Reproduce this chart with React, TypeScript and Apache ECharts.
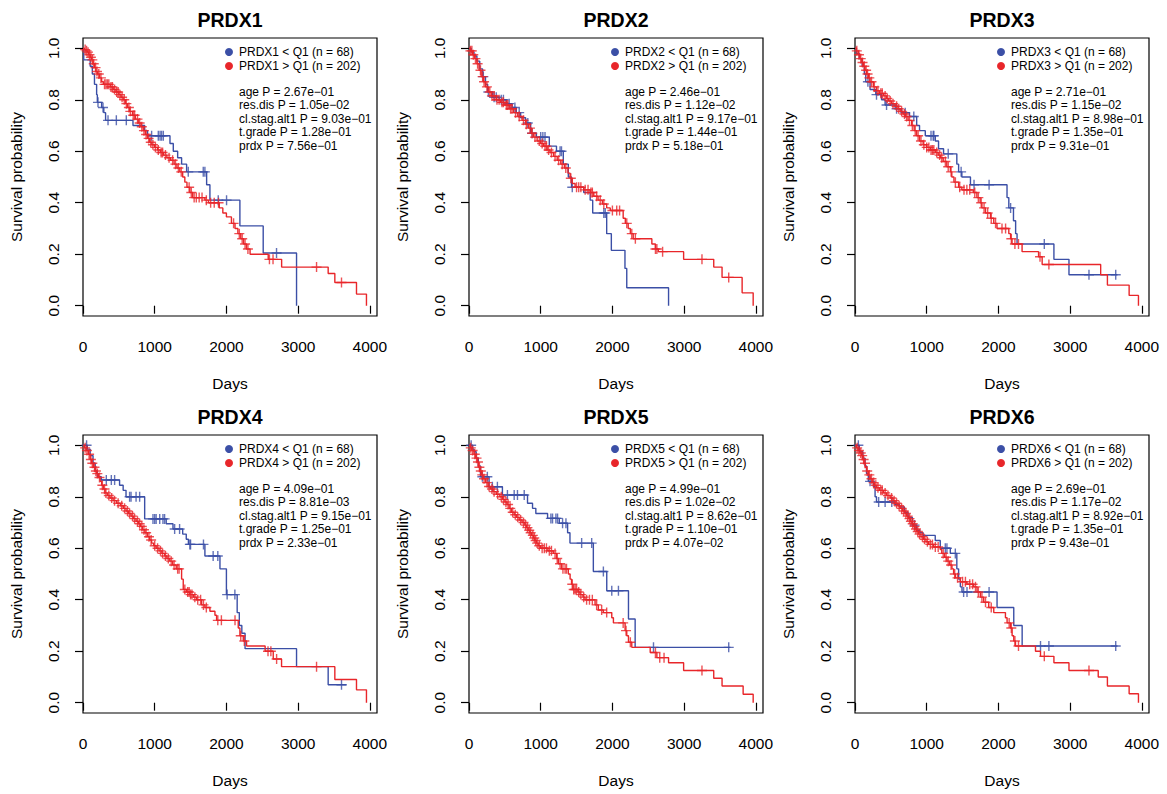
import { useEffect, useRef } from 'react';
import * as echarts from 'echarts';

const genes = ['PRDX1', 'PRDX2', 'PRDX3', 'PRDX4', 'PRDX5', 'PRDX6'];
const nLow = 68;
const nHigh = 202;
const xTicks = [0, 1000, 2000, 3000, 4000];
const yTicks = [0, 0.2, 0.4, 0.6, 0.8, 1.0];
const statNames = ['age', 'res.dis', 'cl.stag.alt1', 't.grade', 'prdx'];

const prdx1Stats = ['2.67e\u221201', '1.05e\u221202', '9.03e\u221201', '1.28e\u221201', '7.56e\u221201'];
const prdx2Stats = ['2.46e\u221201', '1.12e\u221202', '9.17e\u221201', '1.44e\u221201', '5.18e\u221201'];
const prdx3Stats = ['2.71e\u221201', '1.15e\u221202', '8.98e\u221201', '1.35e\u221201', '9.31e\u221201'];
const prdx4Stats = ['4.09e\u221201', '8.81e\u221203', '9.15e\u221201', '1.25e\u221201', '2.33e\u221201'];
const prdx5Stats = ['4.99e\u221201', '1.02e\u221202', '8.62e\u221201', '1.10e\u221201', '4.07e\u221202'];
const prdx6Stats = ['2.69e\u221201', '1.17e\u221202', '8.92e\u221201', '1.35e\u221201', '9.43e\u221201'];

// Kaplan-Meier steps: [day, survival after the event]
const prdx1Low = [[0,1],[10,0.955],[100,0.93],[130,0.9],[160,0.86],[190,0.82],[200,0.79],[260,0.77],[290,0.75],[315,0.72],[697,0.7],[860,0.68],[900,0.66],[1213,0.63],[1259,0.6],[1320,0.575],[1375,0.55],[1445,0.52],[1724,0.47],[1770,0.41],[2188,0.31],[2513,0.205],[2978,0]];
const prdx1LowCensor = [209,279,349,465,604,957,1050,1075,1096,1120,1468,1677,1700,1886,2002,2699];
const prdx1High = [[0,1],[20,0.995],[40,0.99],[60,0.985],[80,0.975],[100,0.965],[120,0.955],[140,0.94],[160,0.925],[180,0.91],[200,0.9],[230,0.885],[260,0.87],[285,0.86],[380,0.85],[420,0.84],[460,0.83],[500,0.82],[530,0.81],[560,0.8],[590,0.785],[620,0.77],[650,0.755],[690,0.74],[730,0.725],[770,0.71],[810,0.695],[840,0.68],[870,0.665],[900,0.65],[930,0.635],[960,0.625],[1000,0.615],[1040,0.605],[1080,0.595],[1120,0.585],[1170,0.575],[1220,0.565],[1270,0.55],[1310,0.535],[1350,0.52],[1390,0.5],[1420,0.48],[1450,0.46],[1490,0.44],[1530,0.42],[1700,0.41],[1750,0.4],[1900,0.38],[1950,0.36],[2000,0.345],[2070,0.32],[2120,0.3],[2160,0.28],[2200,0.26],[2240,0.24],[2280,0.22],[2330,0.2],[2583,0.18],[2770,0.15],[3419,0.125],[3512,0.09],[3814,0.045],[3953,0]];
const prdx1HighCensor = [30,50,70,90,110,130,150,175,195,220,250,300,320,340,360,390,410,440,470,490,515,545,575,605,640,660,700,720,760,790,820,850,880,915,945,975,1010,1050,1090,1110,1150,1200,1250,1290,1330,1370,1480,1510,1550,1580,1620,1660,1720,1780,1830,1890,2100,2180,2220,2260,2300,2600,2650,3257,3605];

const prdx2Low = [[0,1],[30,0.985],[70,0.97],[110,0.95],[150,0.92],[190,0.89],[230,0.86],[260,0.83],[330,0.81],[420,0.8],[520,0.785],[600,0.77],[660,0.75],[720,0.73],[790,0.71],[860,0.67],[940,0.655],[1120,0.62],[1220,0.6],[1315,0.55],[1385,0.5],[1430,0.46],[1600,0.44],[1690,0.41],[1725,0.36],[1920,0.28],[1985,0.215],[2175,0.145],[2200,0.07],[2783,0]];
const prdx2LowCensor = [200,270,350,380,450,480,560,640,700,820,880,1000,1030,1060,1270,1290,1440,1880,1900];
const prdx2High = [[0,1],[20,0.99],[50,0.975],[80,0.96],[110,0.94],[140,0.915],[170,0.89],[200,0.87],[230,0.85],[270,0.83],[310,0.815],[380,0.8],[440,0.79],[500,0.78],[560,0.765],[620,0.75],[680,0.735],[740,0.72],[790,0.705],[830,0.69],[870,0.67],[900,0.655],[950,0.64],[1000,0.63],[1040,0.62],[1090,0.605],[1130,0.595],[1180,0.58],[1230,0.565],[1280,0.55],[1330,0.535],[1380,0.515],[1410,0.495],[1440,0.475],[1480,0.46],[1600,0.45],[1690,0.44],[1740,0.425],[1800,0.41],[1860,0.395],[1920,0.38],[1970,0.37],[2150,0.34],[2180,0.32],[2220,0.3],[2250,0.28],[2290,0.26],[2550,0.24],[2600,0.22],[2640,0.21],[2993,0.18],[3413,0.15],[3529,0.11],[3809,0.05],[3963,0]];
const prdx2HighCensor = [20,40,60,90,120,160,190,210,250,290,320,350,390,420,460,480,520,540,580,600,650,700,760,800,850,880,920,980,1020,1060,1080,1110,1150,1200,1250,1300,1350,1420,1500,1530,1560,1620,1660,1700,1720,1780,1830,1880,2000,2060,2100,2200,2270,2320,2600,2620,2700,3249,3622];

const prdx3Low = [[0,1],[20,0.98],[60,0.96],[100,0.93],[130,0.9],[150,0.87],[210,0.84],[290,0.82],[370,0.8],[420,0.78],[560,0.765],[650,0.75],[760,0.735],[860,0.7],[900,0.68],[980,0.66],[1120,0.64],[1165,0.61],[1235,0.59],[1420,0.55],[1445,0.52],[1490,0.5],[1610,0.47],[2120,0.42],[2145,0.38],[2210,0.33],[2240,0.28],[2260,0.24],[2774,0.18],[2984,0.12],[3660,0.12]];
const prdx3LowCensor = [180,300,440,580,700,820,1060,1090,1100,1300,1480,1660,1870,2170,2640,3263,3636];
const prdx3High = [[0,1],[20,0.99],[45,0.975],[70,0.96],[95,0.945],[117,0.93],[140,0.915],[163,0.9],[190,0.885],[210,0.87],[256,0.85],[300,0.835],[340,0.825],[400,0.815],[440,0.805],[470,0.795],[510,0.785],[560,0.775],[600,0.765],[630,0.755],[670,0.745],[700,0.735],[740,0.72],[790,0.7],[825,0.68],[860,0.66],[900,0.64],[950,0.625],[1000,0.615],[1050,0.605],[1120,0.595],[1160,0.585],[1190,0.575],[1230,0.56],[1280,0.54],[1330,0.52],[1350,0.5],[1380,0.48],[1445,0.46],[1490,0.45],[1650,0.44],[1700,0.42],[1745,0.4],[1770,0.38],[1820,0.36],[1890,0.34],[1935,0.32],[1980,0.3],[2145,0.28],[2170,0.26],[2190,0.24],[2330,0.21],[2560,0.19],[2610,0.16],[3426,0.12],[3520,0.08],[3823,0.04],[3953,0]];
const prdx3HighCensor = [25,55,80,105,130,155,175,200,230,270,320,360,380,420,450,490,530,580,610,650,690,720,760,800,840,880,920,960,1000,1030,1060,1080,1100,1140,1180,1210,1260,1300,1340,1400,1460,1520,1560,1600,1670,1720,1760,1800,1850,1900,1960,2050,2100,2180,2230,2280,2580,2704];

const prdx4Low = [[0,1],[60,0.985],[100,0.96],[140,0.93],[170,0.9],[200,0.878],[255,0.865],[510,0.845],[560,0.825],[600,0.8],[860,0.714],[1160,0.695],[1255,0.675],[1390,0.655],[1440,0.635],[1470,0.615],[1700,0.57],[1910,0.52],[2000,0.42],[2150,0.35],[2180,0.3],[2215,0.27],[2260,0.21],[2978,0.14],[3419,0.07],[3675,0.07]];
const prdx4LowCensor = [50,325,395,441,650,670,740,790,976,1000,1020,1070,1115,1138,1278,1347,1490,1500,1680,1815,1880,2010,2118,3605];
const prdx4High = [[0,1],[20,0.99],[45,0.98],[74,0.965],[100,0.945],[121,0.93],[145,0.915],[167,0.9],[190,0.89],[214,0.875],[240,0.86],[260,0.845],[285,0.83],[307,0.815],[340,0.805],[376,0.795],[420,0.785],[469,0.775],[520,0.765],[562,0.755],[600,0.745],[632,0.735],[670,0.725],[701,0.715],[740,0.705],[771,0.695],[800,0.685],[830,0.672],[864,0.66],[900,0.645],[930,0.632],[957,0.62],[985,0.61],[1020,0.6],[1060,0.59],[1100,0.58],[1140,0.57],[1170,0.56],[1210,0.55],[1250,0.535],[1300,0.52],[1375,0.48],[1398,0.44],[1445,0.43],[1490,0.42],[1540,0.41],[1584,0.4],[1654,0.38],[1700,0.37],[1770,0.355],[1840,0.34],[1863,0.32],[2165,0.29],[2188,0.26],[2235,0.24],[2281,0.22],[2540,0.2],[2653,0.17],[2769,0.14],[3512,0.09],[3814,0.05],[3953,0]];
const prdx4HighCensor = [30,55,85,110,130,160,180,200,230,270,300,320,360,400,440,490,540,580,620,650,690,720,760,790,820,850,880,920,950,1000,1040,1080,1110,1150,1190,1230,1270,1320,1340,1420,1460,1480,1500,1520,1560,1600,1640,1680,1720,1880,1930,2120,2200,2250,2580,2620,2700,3257];

const prdx5Low = [[0,1],[50,0.985],[70,0.975],[100,0.95],[130,0.92],[160,0.878],[280,0.839],[466,0.807],[816,0.775],[886,0.755],[932,0.735],[1096,0.716],[1259,0.697],[1375,0.66],[1408,0.62],[1734,0.51],[1921,0.435],[2224,0.325],[2317,0.215],[3646,0.215]];
const prdx5LowCensor = [30,186,256,326,396,536,630,676,770,1142,1165,1212,1235,1305,1352,1571,1711,1874,1991,2084,2573,3622];
const prdx5High = [[0,1],[20,0.99],[40,0.98],[70,0.965],[95,0.95],[115,0.935],[135,0.915],[150,0.9],[175,0.885],[196,0.87],[230,0.855],[266,0.84],[300,0.83],[336,0.82],[380,0.81],[430,0.8],[470,0.79],[500,0.78],[530,0.77],[560,0.755],[592,0.74],[630,0.73],[662,0.72],[700,0.71],[740,0.7],[779,0.69],[800,0.68],[825,0.67],[850,0.66],[872,0.65],[900,0.64],[918,0.63],[940,0.62],[965,0.61],[1000,0.6],[1100,0.59],[1175,0.58],[1221,0.56],[1245,0.54],[1290,0.52],[1385,0.5],[1410,0.48],[1430,0.46],[1450,0.44],[1520,0.43],[1548,0.42],[1590,0.41],[1618,0.4],[1758,0.38],[1804,0.36],[1874,0.35],[1991,0.33],[2014,0.31],[2177,0.28],[2200,0.26],[2224,0.235],[2270,0.215],[2527,0.195],[2620,0.175],[2783,0.155],[2993,0.125],[3413,0.095],[3529,0.065],[3823,0.033],[3963,0]];
const prdx5HighCensor = [25,50,80,105,125,145,165,185,210,250,280,320,350,400,450,480,515,545,575,610,645,680,720,760,790,815,840,860,890,910,930,950,980,1020,1050,1080,1120,1150,1200,1230,1270,1310,1340,1360,1440,1460,1480,1500,1530,1560,1600,1640,1680,1720,1780,1850,1920,2150,2190,2250,2600,2660,2720,3249];

const prdx6Low = [[0,1],[60,0.975],[110,0.95],[140,0.92],[160,0.89],[186,0.86],[256,0.84],[280,0.8],[300,0.78],[555,0.77],[620,0.76],[690,0.74],[740,0.72],[800,0.69],[860,0.67],[905,0.66],[950,0.65],[1119,0.63],[1189,0.6],[1329,0.58],[1420,0.52],[1445,0.48],[1469,0.45],[1492,0.43],[1981,0.37],[2214,0.3],[2331,0.22],[3660,0.22]];
const prdx6LowCensor = [47,210,330,420,513,830,1259,1282,1399,1515,1562,1870,2587,2704,3636];
const prdx6High = [[0,1],[20,0.99],[45,0.98],[70,0.97],[93,0.96],[110,0.945],[126,0.93],[145,0.915],[163,0.9],[185,0.885],[210,0.87],[240,0.855],[270,0.845],[300,0.835],[340,0.825],[396,0.815],[440,0.805],[490,0.795],[530,0.785],[559,0.775],[600,0.765],[629,0.755],[665,0.745],[699,0.735],[720,0.725],[746,0.715],[770,0.705],[793,0.695],[815,0.685],[839,0.675],[860,0.665],[886,0.655],[920,0.645],[956,0.635],[990,0.625],[1026,0.615],[1096,0.605],[1189,0.595],[1210,0.58],[1250,0.565],[1282,0.55],[1320,0.535],[1352,0.52],[1375,0.5],[1400,0.485],[1469,0.47],[1560,0.46],[1655,0.45],[1702,0.43],[1748,0.41],[1795,0.39],[1865,0.37],[1935,0.35],[2098,0.33],[2121,0.31],[2168,0.29],[2191,0.26],[2214,0.24],[2238,0.22],[2517,0.2],[2587,0.18],[2774,0.155],[2984,0.125],[3392,0.1],[3520,0.065],[3823,0.035],[3953,0]];
const prdx6HighCensor = [30,55,80,100,120,140,170,200,230,260,290,320,360,380,420,460,510,545,580,615,650,680,710,735,760,780,805,830,850,875,900,940,970,1010,1050,1080,1120,1160,1230,1270,1300,1340,1390,1430,1500,1540,1600,1640,1680,1720,1770,1820,1900,2150,2180,2230,2280,2640,3263];

const panels = [
  { gene: genes[0], low: prdx1Low, lowC: prdx1LowCensor, high: prdx1High, highC: prdx1HighCensor, stats: prdx1Stats },
  { gene: genes[1], low: prdx2Low, lowC: prdx2LowCensor, high: prdx2High, highC: prdx2HighCensor, stats: prdx2Stats },
  { gene: genes[2], low: prdx3Low, lowC: prdx3LowCensor, high: prdx3High, highC: prdx3HighCensor, stats: prdx3Stats },
  { gene: genes[3], low: prdx4Low, lowC: prdx4LowCensor, high: prdx4High, highC: prdx4HighCensor, stats: prdx4Stats },
  { gene: genes[4], low: prdx5Low, lowC: prdx5LowCensor, high: prdx5High, highC: prdx5HighCensor, stats: prdx5Stats },
  { gene: genes[5], low: prdx6Low, lowC: prdx6LowCensor, high: prdx6High, highC: prdx6HighCensor, stats: prdx6Stats },
];

const BLUE = '#3b4fa6';
const RED = '#e8262a';
const FONT = '"Liberation Sans", Arial, Helvetica, sans-serif';
const CROSS = 'path://M0,5L10,5M5,0L5,10';
const colLefts = [83, 469, 855];
const rowTops = [38, 435];
const W = 294;
const H = 278;

function survAt(steps: number[][], t: number): number {
  let s = steps[0][1];
  for (const [ti, si] of steps) {
    if (ti <= t) s = si;
    else break;
  }
  return s;
}

export default function App() {
  const ref = useRef<HTMLDivElement>(null);
  useEffect(() => {
    if (!ref.current) return;
    const chart = echarts.init(ref.current, undefined, { renderer: 'svg' });
    const pos = (i: number) => ({ L: colLefts[i % 3], T: rowTops[Math.floor(i / 3)] });
    const lowName = (g: string) => `${g} < Q1 (n = ${nLow})`;
    const highName = (g: string) => `${g} > Q1 (n = ${nHigh})`;

    const option: any = {
      animation: false,
      backgroundColor: '#fff',
      grid: panels.map((_, i) => ({
        left: pos(i).L, top: pos(i).T, width: W, height: H,
        show: true, borderColor: '#000', borderWidth: 1.2, backgroundColor: 'transparent',
      })),
      xAxis: panels.map((_, i) => ({
        type: 'value', gridIndex: i, min: 0, max: 4100,
        name: 'Days', nameLocation: 'middle', nameGap: 59,
        nameTextStyle: { fontSize: 15.5, color: '#000', fontFamily: FONT },
        axisLine: { show: false }, splitLine: { show: false },
        axisTick: { show: true, length: 8, customValues: xTicks, lineStyle: { color: '#000', width: 1.2 } },
        axisLabel: {
          customValues: xTicks, margin: 22, fontSize: 15.5, color: '#000', fontFamily: FONT,
          formatter: (v: number) => String(v),
        },
      })),
      yAxis: panels.map((_, i) => ({
        type: 'value', gridIndex: i, min: -0.04, max: 1.04,
        name: 'Survival probability', nameLocation: 'middle', nameGap: 59,
        nameTextStyle: { fontSize: 15.5, color: '#000', fontFamily: FONT },
        axisLine: { show: false }, splitLine: { show: false },
        axisTick: { show: true, length: 8, customValues: yTicks, lineStyle: { color: '#000', width: 1.2 } },
        axisLabel: {
          customValues: yTicks, margin: 22, rotate: 90, fontSize: 15.5, color: '#000', fontFamily: FONT,
          formatter: (v: number) => v.toFixed(1),
        },
      })),
      legend: panels.map((p, i) => ({
        data: [lowName(p.gene), highName(p.gene)],
        orient: 'vertical', left: pos(i).L + 142, top: pos(i).T + 8,
        icon: 'circle', itemWidth: 8, itemHeight: 8, itemGap: 2, padding: 0,
        selectedMode: false,
        textStyle: { fontSize: 12, color: '#000', fontFamily: FONT, padding: [0, 0, 0, 1] },
      })),
      series: panels.flatMap((p, i) => [
        {
          type: 'line', name: lowName(p.gene), xAxisIndex: i, yAxisIndex: i, data: p.low,
          step: 'end', symbol: 'none', showSymbol: false,
          lineStyle: { color: BLUE, width: 1.4 }, itemStyle: { color: BLUE }, z: 2,
        },
        {
          type: 'scatter', xAxisIndex: i, yAxisIndex: i,
          data: p.lowC.map((t) => [t, survAt(p.low, t)]),
          symbol: CROSS, symbolSize: 10, silent: true,
          itemStyle: { color: 'rgba(0,0,0,0)', borderColor: BLUE, borderWidth: 1.4 }, z: 2,
        },
        {
          type: 'line', name: highName(p.gene), xAxisIndex: i, yAxisIndex: i, data: p.high,
          step: 'end', symbol: 'none', showSymbol: false,
          lineStyle: { color: RED, width: 1.4 }, itemStyle: { color: RED }, z: 3,
        },
        {
          type: 'scatter', xAxisIndex: i, yAxisIndex: i,
          data: p.highC.map((t) => [t, survAt(p.high, t)]),
          symbol: CROSS, symbolSize: 10, silent: true,
          itemStyle: { color: 'rgba(0,0,0,0)', borderColor: RED, borderWidth: 1.4 }, z: 3,
        },
      ]),
      graphic: panels.flatMap((p, i) => {
        const { L, T } = pos(i);
        return [
          {
            type: 'text', x: L + W / 2, y: T - 18,
            style: {
              text: p.gene, fontSize: 19.5, fontWeight: 'bold', fontFamily: FONT, fill: '#000',
              align: 'center', verticalAlign: 'middle', textAlign: 'center', textVerticalAlign: 'middle',
            },
          },
          {
            type: 'text', x: L + 156, y: T + 47.3,
            style: {
              text: statNames.map((n, k) => `${n} P = ${p.stats[k]}`).join('\n'),
              fontSize: 12, fontFamily: FONT, fill: '#000', lineHeight: 13.4,
              verticalAlign: 'top', textVerticalAlign: 'top',
            },
          },
        ];
      }),
    };
    chart.setOption(option);
    return () => chart.dispose();
  }, []);
  return (
    <div
      ref={ref}
      style={{ position: 'fixed', left: 0, top: 0, width: 1167, height: 794, background: '#fff' }}
    />
  );
}
